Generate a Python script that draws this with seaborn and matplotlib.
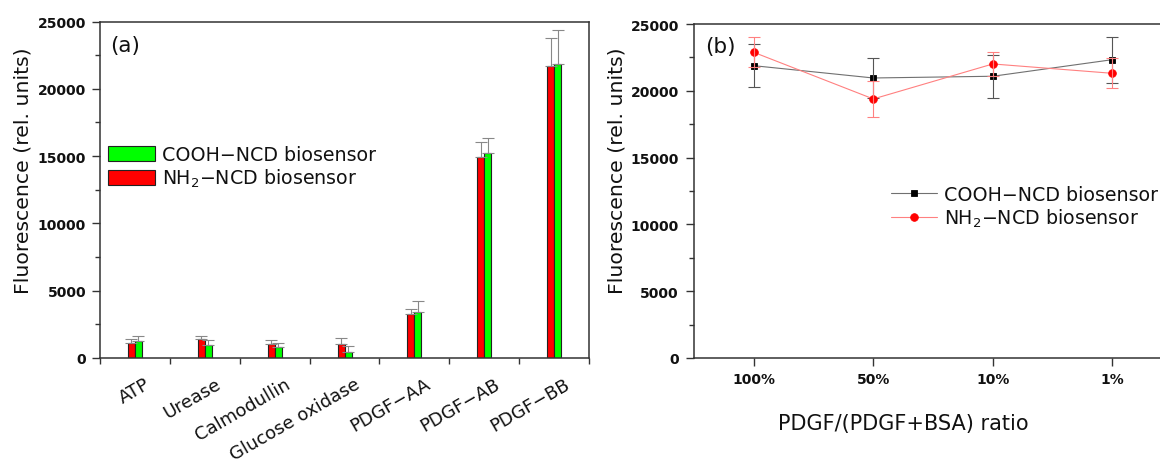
import numpy as np
import pandas as pd
import matplotlib
matplotlib.use('Agg')
import matplotlib.pyplot as plt
import matplotlib.transforms as mtransforms
from matplotlib.ticker import MultipleLocator, FixedLocator
import seaborn as sns

# panel (a): selectivity
proteins = ['ATP', 'Urease', 'Calmodullin', 'Glucose oxidase', 'PDGF−AA', 'PDGF−AB', 'PDGF−BB']
nh2_vals = [1150, 1380, 1070, 1070, 3250, 14930, 21700]
nh2_err = [250, 260, 270, 390, 420, 1100, 2050]
cooh_vals = [1260, 950, 850, 480, 3420, 15250, 21830]
cooh_err = [380, 400, 300, 380, 820, 1120, 2540]

# panel (b): PDGF/(PDGF+BSA) ratio
ratios = ['100%', '50%', '10%', '1%']
cooh_ratio = [21880, 20960, 21090, 22330]
cooh_ratio_err = [1620, 1500, 1600, 1720]
nh2_ratio = [22880, 19390, 22010, 21310]
nh2_ratio_err = [1120, 1320, 920, 1120]

COOH_LABEL = 'COOH−NCD biosensor'
NH2_LABEL = 'NH$_2$−NCD biosensor'

sns.set_style('ticks')
plt.rcParams['font.family'] = ['DejaVu Sans']
plt.rcParams['mathtext.default'] = 'regular'
plt.rcParams['text.color'] = '#111111'
plt.rcParams['axes.labelcolor'] = '#111111'
plt.rcParams['xtick.labelcolor'] = '#111111'
plt.rcParams['ytick.labelcolor'] = '#111111'

fig = plt.figure(figsize=(11.6, 4.64), dpi=100)
ax1 = fig.add_axes([0.0862, 0.2263, 0.4216, 0.7252])
ax2 = fig.add_axes([0.5983, 0.2263, 0.4121, 0.7198])

spine_color = '#333333'

# ---- panel (a) ----
df_a = pd.DataFrame({
    'protein': proteins * 2,
    'value': nh2_vals + cooh_vals,
    'sensor': [NH2_LABEL] * len(proteins) + [COOH_LABEL] * len(proteins),
})
sns.barplot(data=df_a, x='protein', y='value', hue='sensor',
            hue_order=[NH2_LABEL, COOH_LABEL], palette=['#ff0000', '#00ff00'],
            saturation=1, width=0.2, gap=0, edgecolor='#222222', linewidth=0.8,
            errorbar=None, legend=False, ax=ax1)

for cont, errs in zip(ax1.containers, [nh2_err, cooh_err]):
    xs = [b.get_x() + b.get_width() / 2 for b in cont]
    ys = [b.get_height() for b in cont]
    ax1.errorbar(xs, ys, yerr=[np.zeros(len(errs)), errs], fmt='none',
                 ecolor='#888888', elinewidth=0.8, capsize=4, capthick=0.8)

ax1.set_xlim(-0.5, 6.5)
ax1.set_ylim(0, 25000)
ax1.yaxis.set_major_locator(MultipleLocator(5000))
ax1.yaxis.set_minor_locator(MultipleLocator(2500))
ax1.xaxis.set_minor_locator(FixedLocator(np.arange(-0.5, 7, 1)))
ax1.tick_params(axis='x', which='major', length=0, pad=12, labelsize=13)
ax1.tick_params(axis='x', which='minor', length=4, width=1, color=spine_color, direction='out')
ax1.tick_params(axis='y', which='major', length=6, width=1, color=spine_color, pad=4)
ax1.tick_params(axis='y', which='minor', length=3.5, width=1, color=spine_color)
for lab in ax1.get_yticklabels():
    lab.set_fontsize(10)
    lab.set_fontweight('bold')
offset = mtransforms.ScaledTranslation(0.10, 0, fig.dpi_scale_trans)
for lab in ax1.get_xticklabels():
    lab.set_rotation(30)
    lab.set_ha('right')
    lab.set_va('top')
    lab.set_rotation_mode('anchor')
    lab.set_transform(lab.get_transform() + offset)
ax1.set_xlabel('')
ax1.set_ylabel('Fluorescence (rel. units)', fontsize=14.7)
ax1.yaxis.set_label_coords(-0.139, 0.559)
for s in ax1.spines.values():
    s.set_visible(True)
    s.set_color(spine_color)
    s.set_linewidth(1.1)
ax1.text(0.0204, 0.930, '(a)', transform=ax1.transAxes, fontsize=15.5, va='center', ha='left')

bars = [ax1.containers[1][0], ax1.containers[0][0]]
ax1.legend(bars, [COOH_LABEL, NH2_LABEL], loc='upper left',
           bbox_to_anchor=(0.0931, 0.685), bbox_transform=fig.transFigure,
           frameon=False, fontsize=13.7, borderpad=0, borderaxespad=0,
           handlelength=2.47, handleheight=0.8, handletextpad=0.37, labelspacing=0.15)

# ---- panel (b) ----
sns.pointplot(x=ratios, y=cooh_ratio, color='#707070', marker='s', markersize=5,
              linewidth=0.8, markerfacecolor='black', markeredgecolor='black',
              errorbar=None, label=COOH_LABEL, ax=ax2)
pos = np.arange(len(ratios))
ax2.errorbar(pos, cooh_ratio, yerr=cooh_ratio_err, fmt='none', ecolor='#555555',
             elinewidth=0.8, capsize=4, capthick=0.8)
sns.pointplot(x=ratios, y=nh2_ratio, color='#ff8080', marker='o', markersize=5.5,
              linewidth=0.8, markerfacecolor='#ff0000', markeredgecolor='#ff0000',
              errorbar=None, label=NH2_LABEL, ax=ax2)
ax2.errorbar(pos, nh2_ratio, yerr=nh2_ratio_err, fmt='none', ecolor='#ff8080',
             elinewidth=0.8, capsize=4, capthick=0.8)

ax2.set_xlim(-0.5, 3.5)
ax2.set_ylim(0, 25000)
ax2.yaxis.set_major_locator(MultipleLocator(5000))
ax2.yaxis.set_minor_locator(MultipleLocator(2500))
ax2.tick_params(axis='x', which='major', length=6, width=1, color=spine_color, pad=4)
ax2.tick_params(axis='y', which='major', length=6, width=1, color=spine_color, pad=5)
ax2.tick_params(axis='y', which='minor', length=3.5, width=1, color=spine_color)
for lab in ax2.get_yticklabels() + ax2.get_xticklabels():
    lab.set_fontsize(10)
    lab.set_fontweight('bold')
ax2.set_ylabel('Fluorescence (rel. units)', fontsize=14.7)
ax2.yaxis.set_label_coords(-0.142, 0.563)
ax2.set_xlabel('PDGF/(PDGF+BSA) ratio', fontsize=15)
ax2.xaxis.set_label_coords(0.438, -0.166)
for s in ax2.spines.values():
    s.set_visible(True)
    s.set_color(spine_color)
    s.set_linewidth(1.1)
ax2.text(0.023, 0.934, '(b)', transform=ax2.transAxes, fontsize=15.5, va='center', ha='left')

ax2.legend(loc='upper left', bbox_to_anchor=(0.768, 0.599), bbox_transform=fig.transFigure,
           frameon=False, fontsize=13.7, borderpad=0, borderaxespad=0,
           handlelength=2.4, handletextpad=0.4, labelspacing=0.15, numpoints=1)

fig.savefig('out.png', dpi=100)
